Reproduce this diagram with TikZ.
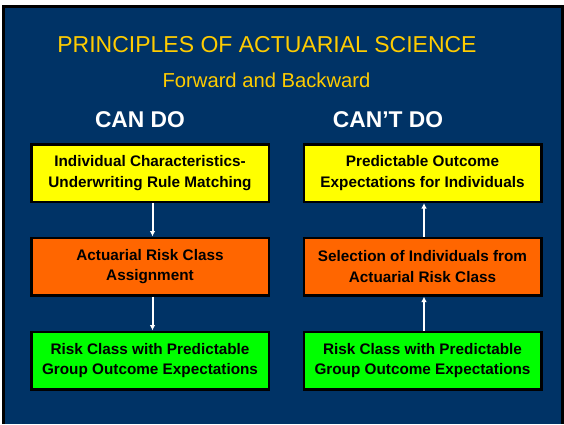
\documentclass[tikz,border=0pt]{standalone}
\usepackage{fontspec}
\setmainfont{Liberation Sans}
\usetikzlibrary{arrows.meta}
\definecolor{navy}{RGB}{0,51,102}
\definecolor{titleyellow}{RGB}{255,204,0}
\definecolor{boxyellow}{RGB}{255,255,0}
\definecolor{boxorange}{RGB}{255,102,0}
\definecolor{boxgreen}{RGB}{0,255,0}
\tikzset{
  stagebox/.style={draw=black, line width=2.5pt, minimum width=237.5pt, minimum height=57.5pt,
    inner sep=0pt, align=center, font=\fontsize{15.3}{20.5}\selectfont\bfseries, text=black},
  flowarrow/.style={draw=white, line width=2pt, -{Latex[length=5.5pt,width=5.5pt]}},
  colhead/.style={text=white, font=\fontsize{22.8}{26}\selectfont\bfseries, inner sep=0pt, anchor=base}
}
\begin{document}
\begin{tikzpicture}[x=1pt,y=-1pt]
\useasboundingbox (0,0) rectangle (564,424);
\fill[white] (0,0) rectangle (564,424);
\fill[black] (2,5) rectangle (564,424);
\fill[navy] (5,8) rectangle (561,424);
\node[text=titleyellow, font=\fontsize{23}{26}\selectfont, inner sep=0pt, anchor=base] (title) at (267,52.5) {PRINCIPLES OF ACTUARIAL SCIENCE};
\node[text=titleyellow, font=\fontsize{20.2}{24}\selectfont, inner sep=0pt, anchor=base] (sub) at (266.5,87) {Forward and Backward};
\node[colhead] (can) at (140,127.5) {CAN DO};
\node[colhead] (cant) at (388,127.5) {CAN’T DO};
% left column
\node[stagebox, fill=boxyellow] (l1) at (150,173) {\raisebox{-2.5pt}{Individual Characteristics-}\\\raisebox{-2.5pt}{Underwriting Rule Matching}};
\node[stagebox, fill=boxorange] (l2) at (150,266.5) {Actuarial Risk Class\\Assignment};
\node[stagebox, fill=boxgreen] (l3) at (150,360.5) {Risk Class with Predictable\\Group Outcome Expectations};
% right column
\node[stagebox, fill=boxyellow] (r1) at (422.5,173) {\raisebox{-1.5pt}{Predictable Outcome}\\\raisebox{-1.5pt}{Expectations for Individuals}};
\node[stagebox, fill=boxorange] (r2) at (422.5,266.5) {Selection of Individuals from\\Actuarial Risk Class};
\node[stagebox, fill=boxgreen] (r3) at (422.5,360.5) {Risk Class with Predictable\\Group Outcome Expectations};
% arrows
\draw[flowarrow] ([xshift=2.5pt]l1.south) -- ([xshift=2.5pt]l2.north);
\draw[flowarrow] ([xshift=2.5pt]l2.south) -- ([xshift=2.5pt]l3.north);
\draw[flowarrow] ([xshift=1.5pt]r2.north) -- ([xshift=1.5pt]r1.south);
\draw[flowarrow] ([xshift=1.5pt]r3.north) -- ([xshift=1.5pt]r2.south);
\end{tikzpicture}
\end{document}
